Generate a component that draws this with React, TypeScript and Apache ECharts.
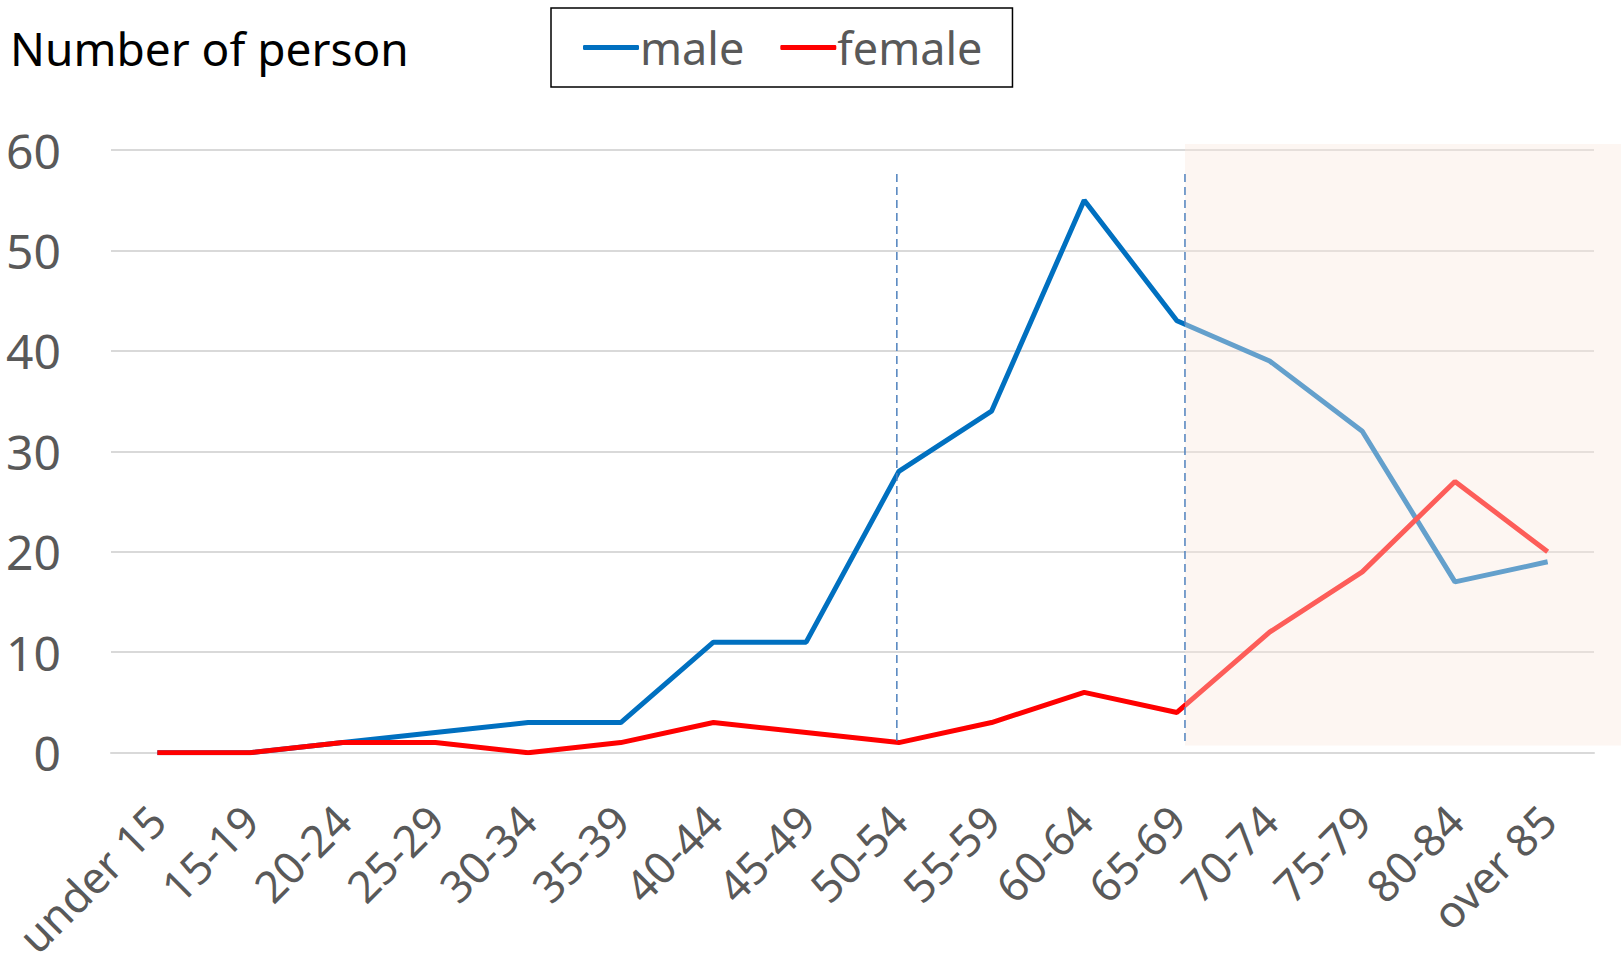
import React, { useEffect, useRef } from "react";
import * as echarts from "echarts";

const categories = [
  "under 15", "15-19", "20-24", "25-29", "30-34", "35-39", "40-44", "45-49",
  "50-54", "55-59", "60-64", "65-69", "70-74", "75-79", "80-84", "over 85",
];
const maleValues = [0, 0, 1, 2, 3, 3, 11, 11, 28, 34, 55, 43, 39, 32, 17, 19];
const femaleValues = [0, 0, 1, 1, 0, 1, 3, 2, 1, 3, 6, 4, 12, 18, 27, 20];
const yTicks = { min: 0, max: 60, interval: 10 };
const titleText = "Number of person";
const seriesNames = ["male", "female"];

const FONT = "'Noto Sans', 'Open Sans', sans-serif";
const GRAY = "#595959";

export default function App() {
  const ref = useRef<HTMLDivElement>(null);
  useEffect(() => {
    if (!ref.current) return;
    const chart = echarts.init(ref.current, null, { renderer: "svg" });
    chart.setOption({
      animation: false,
      backgroundColor: "#ffffff",
      grid: { left: 111, right: 27, top: 150, bottom: 207, containLabel: false },
      legend: {
        data: seriesNames.map((n) => ({ name: n, icon: "roundRect" })),
        left: 551,
        top: 8,
        padding: [17, 30, 17, 32],
        borderColor: "#000000",
        borderWidth: 1.5,
        itemWidth: 56,
        itemHeight: 5,
        itemGap: 36,
        textStyle: { fontFamily: FONT, fontSize: 45, color: GRAY, padding: [0, 0, 0, -4] },
      },
      xAxis: {
        type: "category",
        data: categories,
        boundaryGap: true,
        axisLine: { lineStyle: { color: "#D9D9D9", width: 2 } },
        axisTick: { show: false },
        axisLabel: {
          interval: 0,
          rotate: 45,
          margin: 60,
          fontFamily: FONT,
          fontSize: 44,
          color: GRAY,
        },
        splitLine: { show: false },
      },
      yAxis: {
        type: "value",
        min: yTicks.min,
        max: yTicks.max,
        interval: yTicks.interval,
        axisLine: { show: false },
        axisTick: { show: false },
        axisLabel: {
          margin: 50,
          fontFamily: FONT,
          fontSize: 48,
          color: GRAY,
          padding: [0, 0, 6, 0],
        },
        splitLine: { lineStyle: { color: "#D9D9D9", width: 2 } },
      },
      series: [
        {
          name: seriesNames[0],
          type: "line",
          data: maleValues,
          symbol: "none",
          color: "#0070C0",
          lineStyle: { color: "#0070C0", width: 5 },
        },
        {
          name: seriesNames[1],
          type: "line",
          data: femaleValues,
          symbol: "none",
          color: "#FF0000",
          lineStyle: { color: "#FF0000", width: 5 },
        },
      ],
    });

    const px = (idx: number, v: number) =>
      chart.convertToPixel({ gridIndex: 0 }, [idx, v]) as number[];
    const p8 = px(8, 57.6);
    const p8b = px(8, 0.7);
    const p11 = px(11, 60.6);
    const p12 = px(12, 0);
    const band = p12[0] - p11[0];
    const shadeX = p11[0] + band * 0.087;
    const shadeTop = p11[1];
    const shadeBottom = p8b[1];

    chart.setOption({
      graphic: [
        {
          type: "text",
          left: 10,
          top: 25,
          style: { text: titleText, font: `46px ${FONT}`, fill: "#000000" },
        },
        {
          type: "rect",
          z: 100,
          shape: { x: shadeX, y: shadeTop, width: 1621 - shadeX, height: shadeBottom - shadeTop },
          style: { fill: "rgba(250,232,222,0.4)" },
          silent: true,
        },
        {
          type: "line",
          z: 101,
          shape: { x1: p8[0] - 2, y1: p8[1], x2: p8[0] - 2, y2: shadeBottom },
          style: { stroke: "#4F81BD", lineWidth: 1.5, lineDash: [8, 5] },
          silent: true,
        },
        {
          type: "line",
          z: 101,
          shape: { x1: shadeX, y1: p8[1], x2: shadeX, y2: shadeBottom },
          style: { stroke: "#4F81BD", lineWidth: 1.5, lineDash: [8, 5] },
          silent: true,
        },
      ],
    });
    return () => chart.dispose();
  }, []);
  return (
    <div
      ref={ref}
      style={{ position: "fixed", left: 0, top: 0, width: 1621, height: 962 }}
    />
  );
}
